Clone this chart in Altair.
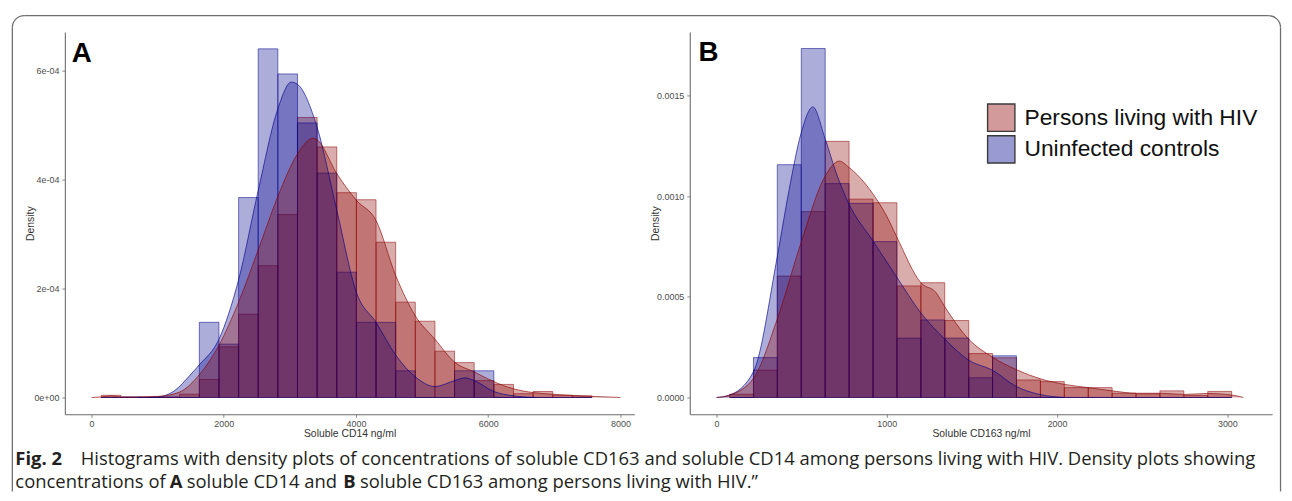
import altair as alt
import pandas as pd

GROUPS = ["Persons living with HIV", "Uninfected controls"]
FILL = ["#8b0000", "#00008b"]
LEGEND_FILL = ["#d29a9a", "#9a9ad3"]

# ---------------- Panel A : soluble CD14 ----------------
a_bin_start = [145, 442, 739, 1036, 1333, 1630, 1927, 2224, 2521, 2818, 3115, 3412, 3709,
               4006, 4303, 4600, 4897, 5194, 5491, 5788, 6085, 6382, 6679, 6976, 7273]
a_bin_width = 297
a_hist_hiv = [0.04e-4, 0, 0.01e-4, 0, 0.06e-4, 0.33e-4, 0.93e-4, 1.53e-4, 2.42e-4, 3.36e-4,
              5.14e-4, 4.60e-4, 3.76e-4, 3.63e-4, 2.85e-4, 1.75e-4, 1.40e-4, 0.85e-4, 0.64e-4,
              0.31e-4, 0.24e-4, 0.07e-4, 0.11e-4, 0.04e-4, 0.03e-4]
a_hist_ctrl = [0, 0.01e-4, 0, 0.01e-4, 0, 1.38e-4, 0.98e-4, 3.67e-4, 6.40e-4, 5.94e-4,
               5.04e-4, 4.12e-4, 2.30e-4, 1.38e-4, 1.38e-4, 0.49e-4, 0, 0, 0.49e-4,
               0.49e-4, 0, 0, 0, 0, 0]
a_dens_hiv_x = [0, 150, 300, 450, 700, 1000, 1333, 1630, 1927, 2224, 2521, 2818, 3115, 3350,
                3412, 3709, 4006, 4303, 4600, 4897, 5194, 5491, 5788, 6085, 6382, 6679, 6976,
                7570, 8000]
a_dens_hiv_y = [0, 0.01e-4, 0.03e-4, 0.01e-4, 0.01e-4, 0.02e-4, 0.10e-4, 0.42e-4, 0.96e-4,
                1.75e-4, 2.71e-4, 3.69e-4, 4.47e-4, 4.76e-4, 4.73e-4, 4.11e-4, 3.62e-4,
                3.25e-4, 2.24e-4, 1.50e-4, 1.07e-4, 0.65e-4, 0.47e-4, 0.29e-4, 0.16e-4,
                0.09e-4, 0.06e-4, 0.02e-4, 0]
a_dens_ctrl_x = [700, 1000, 1250, 1498, 1630, 1927, 2224, 2521, 2818, 3021, 3115, 3412, 3709,
                 4006, 4303, 4600, 4897, 5194, 5491, 5650, 5788, 6085, 6382, 6700]
a_dens_ctrl_y = [0, 0.01e-4, 0.12e-4, 0.42e-4, 0.60e-4, 1.07e-4, 2.16e-4, 3.80e-4, 5.30e-4,
                 5.79e-4, 5.75e-4, 4.96e-4, 3.44e-4, 1.93e-4, 1.38e-4, 0.78e-4, 0.38e-4,
                 0.20e-4, 0.31e-4, 0.36e-4, 0.31e-4, 0.11e-4, 0.03e-4, 0]
a_xticks = [0, 2000, 4000, 6000, 8000]
a_yticks = [0, 2e-4, 4e-4, 6e-4]

# ---------------- Panel B : soluble CD163 ----------------
b_bin_start = [77, 217, 357, 498, 638, 779, 919, 1060, 1200, 1341, 1481, 1621, 1762, 1902,
               2043, 2183, 2323, 2464, 2604, 2745, 2885]
b_bin_width = 140.4
b_hist_hiv = [0.016e-3, 0.136e-3, 0.603e-3, 0.923e-3, 1.272e-3, 0.985e-3, 0.967e-3, 0.554e-3,
              0.570e-3, 0.382e-3, 0.218e-3, 0.197e-3, 0.087e-3, 0.079e-3, 0.049e-3, 0.049e-3,
              0.021e-3, 0.018e-3, 0.033e-3, 0.010e-3, 0.030e-3]
b_hist_ctrl = [0, 0.198e-3, 1.156e-3, 1.733e-3, 1.062e-3, 0.964e-3, 0.774e-3, 0.295e-3,
               0.385e-3, 0.295e-3, 0.098e-3, 0.207e-3, 0, 0, 0, 0, 0, 0, 0, 0, 0]
b_dens_hiv_x = [0, 70, 217, 357, 496, 636, 721, 776, 917, 1000, 1057, 1200, 1290, 1341, 1481,
                1621, 1762, 1902, 2043, 2183, 2323, 2464, 2604, 2745, 2885, 3025, 3095]
b_dens_hiv_y = [0, 0.01e-3, 0.095e-3, 0.39e-3, 0.767e-3, 1.096e-3, 1.174e-3, 1.144e-3,
                1.013e-3, 0.90e-3, 0.80e-3, 0.57e-3, 0.52e-3, 0.45e-3, 0.29e-3, 0.20e-3,
                0.138e-3, 0.093e-3, 0.065e-3, 0.049e-3, 0.033e-3, 0.021e-3, 0.021e-3,
                0.015e-3, 0.020e-3, 0.012e-3, 0]
b_dens_ctrl_x = [0, 70, 217, 357, 426, 496, 566, 636, 705, 776, 917, 1057, 1200, 1341, 1481,
                 1619, 1762, 1898, 2043]
b_dens_ctrl_y = [0, 0.01e-3, 0.128e-3, 0.70e-3, 1.03e-3, 1.31e-3, 1.443e-3, 1.29e-3,
                 1.11e-3, 0.964e-3, 0.78e-3, 0.60e-3, 0.42e-3, 0.29e-3, 0.185e-3, 0.136e-3,
                 0.054e-3, 0.015e-3, 0]
b_xticks = [0, 1000, 2000, 3000]
b_yticks = [0, 0.0005, 0.0010, 0.0015]

CAPTION_1_BOLD = "Fig. 2"
CAPTION_1 = ("Histograms with density plots of concentrations of soluble CD163 and soluble CD14 "
             "among persons living with HIV. Density plots showing")
CAPTION_2 = ["concentrations of", "soluble CD14 and",
             "soluble CD163 among persons living with HIV.\u201d"]
CAPTION_2_BOLD = ["A", "B"]

AXFONT = "Liberation Sans"
CAPFONT = "Open Sans"
CAPSIZE = 18.6
FRAME = "#707070"


def hist_df(starts, width, hiv, ctrl):
    rows = []
    for g, vals in ((GROUPS[0], hiv), (GROUPS[1], ctrl)):
        for s, v in zip(starts, vals):
            rows.append({"start": s, "end": s + width, "density": v, "base": 0, "group": g})
    return pd.DataFrame(rows)


def dens_df(xs, ys, g):
    return pd.DataFrame({"x": xs, "y": ys, "base": [0] * len(xs), "group": [g] * len(xs)})


def text_layer(texts, xs, ys, size, weight="normal", font=CAPFONT, color="#231f20"):
    layers = []
    for t, px, py in zip(texts, xs, ys):
        layers.append(
            alt.Chart(pd.DataFrame({"t": [t]})).mark_text(
                align="left", baseline="alphabetic", font=font, fontSize=size,
                fontWeight=weight, color=color
            ).encode(x=alt.value(px), y=alt.value(py), text="t:N")
        )
    return layers


def panel(hd, dh, dc, xdom, ydom, w, h, xticks, yticks, ylabexpr, xtitle, letter, letter_xy,
          show_legend):
    xs = alt.Scale(domain=xdom, nice=False, zero=False)
    ys = alt.Scale(domain=ydom, nice=False, zero=False)
    xaxis = alt.Axis(values=xticks, title=xtitle, format="d", titleX=w / 2, titleY=19.5,
                     titleBaseline="middle", labelPadding=2)
    yaxis = alt.Axis(values=yticks, title="Density", labelExpr=ylabexpr, titleX=-34.5,
                     titleY=h / 2, titleBaseline="middle", labelPadding=3)
    fill_scale = alt.Scale(domain=GROUPS, range=FILL)

    hist = alt.Chart(hd).mark_rect(fillOpacity=0.32, strokeOpacity=0.75, strokeWidth=0.7).encode(
        x=alt.X("start:Q", scale=xs, axis=xaxis),
        x2="end:Q",
        y=alt.Y("density:Q", scale=ys, axis=yaxis),
        y2="base:Q",
        fill=alt.Fill("group:N", scale=fill_scale, legend=None),
        stroke=alt.Stroke("group:N", scale=fill_scale, legend=None),
    )

    def area(df):
        return alt.Chart(df).mark_area(interpolate="monotone", fillOpacity=0.32).encode(
            x=alt.X("x:Q", scale=xs), y=alt.Y("y:Q", scale=ys), y2="base:Q",
            fill=alt.Fill("group:N", scale=fill_scale, legend=None))

    def line(df):
        return alt.Chart(df).mark_line(interpolate="monotone", strokeWidth=0.8,
                                       strokeOpacity=0.8).encode(
            x=alt.X("x:Q", scale=xs), y=alt.Y("y:Q", scale=ys),
            stroke=alt.Stroke("group:N", scale=fill_scale, legend=None))

    layers = [hist, area(dc), area(dh), line(dc), line(dh)]

    layers += text_layer([letter], [letter_xy[0]], [letter_xy[1]], 28, "bold",
                         font="Liberation Sans", color="#000000")

    if show_legend:
        leg = alt.Chart(hd).mark_rect(strokeWidth=0).encode(
            x=alt.X("start:Q", scale=xs), x2="start:Q",
            y=alt.Y("base:Q", scale=ys), y2="base:Q",
            fill=alt.Fill("group:N", scale=alt.Scale(domain=GROUPS, range=LEGEND_FILL),
                          legend=alt.Legend(
                              title=None, orient="none", legendX=300, legendY=72,
                              symbolType="square", symbolSize=760, symbolStrokeColor="#3a3a3a",
                              symbolStrokeWidth=1.4, symbolOpacity=1, labelFont="Liberation Sans",
                              labelFontSize=23, labelColor="#111111", labelOffset=9,
                              labelLimit=500, rowPadding=-8, padding=0)),
        )
        layers.append(leg)

    return alt.layer(*layers).resolve_scale(fill="independent").properties(width=w, height=h)


ha = hist_df(a_bin_start, a_bin_width, a_hist_hiv, a_hist_ctrl)
hb = hist_df(b_bin_start, b_bin_width, b_hist_hiv, b_hist_ctrl)

W_A, W_B, H = 575, 588, 386

pa = panel(ha, dens_df(a_dens_hiv_x, a_dens_hiv_y, GROUPS[0]),
           dens_df(a_dens_ctrl_x, a_dens_ctrl_y, GROUPS[1]),
           [-404, 8210], [-0.309e-4, 6.709e-4], W_A, H, a_xticks, a_yticks,
           "datum.value < 1e-6 ? '0e+00' : format(datum.value * 1e4, 'd') + 'e-04'",
           "Soluble CD14 ng/ml", "A", (7, 30), False)

# frame (rounded top corners, open bottom) and caption, in panel A's pixel space
one = pd.DataFrame({"a": [0]})
frame = [
    alt.Chart(one).mark_rule(color=FRAME, strokeWidth=1.3).encode(
        x=alt.value(-41), x2=alt.value(1215.5), y=alt.value(-16.5)),
    alt.Chart(one).mark_rule(color=FRAME, strokeWidth=1.3).encode(
        x=alt.value(-53), y=alt.value(-4.5), y2=alt.value(464)),
    alt.Chart(one).mark_rule(color=FRAME, strokeWidth=1.3).encode(
        x=alt.value(1227.5), y=alt.value(-4.5), y2=alt.value(464)),
    alt.Chart(one).mark_arc(stroke=FRAME, strokeWidth=1.3, fillOpacity=0, radius=12,
                            radius2=12, theta=4.712389, theta2=6.283185).encode(
        x=alt.value(-41), y=alt.value(-4.5)),
    alt.Chart(one).mark_arc(stroke=FRAME, strokeWidth=1.3, fillOpacity=0, radius=12,
                            radius2=12, theta=0, theta2=1.570796).encode(
        x=alt.value(1215.5), y=alt.value(-4.5)),
]

cap = []
cap += text_layer([CAPTION_1_BOLD], [-50], [437], CAPSIZE, "bold")
cap += text_layer([CAPTION_1], [16], [437], CAPSIZE)
cap += text_layer(CAPTION_2, [-50, 123, 298], [460] * 3, CAPSIZE)
cap += text_layer(CAPTION_2_BOLD, [106, 281], [460] * 2, CAPSIZE, "bold")

pa = alt.layer(*frame, pa, *cap).resolve_scale(fill="independent")

pb = panel(hb, dens_df(b_dens_hiv_x, b_dens_hiv_y, GROUPS[0]),
           dens_df(b_dens_ctrl_x, b_dens_ctrl_y, GROUPS[1]),
           [-157, 3263], [-0.0000836, 0.0018148], W_B, H, b_xticks, b_yticks,
           "format(datum.value, '.4f')",
           "Soluble CD163 ng/ml", "B", (8.7, 29), True)

chart = alt.hconcat(pa, pb, spacing=56, bounds="flush").resolve_scale(
    fill="independent", stroke="independent"
).properties(
    padding={"left": 1.4, "top": 1.9, "right": 0, "bottom": 0}
).configure_view(stroke=None).configure_axis(
    grid=False, domainColor="#6b6b6b", domainWidth=1.1, tickColor="#6b6b6b", tickSize=3,
    tickWidth=0.8, labelFont=AXFONT, labelFontSize=9, labelColor="#4d4d4d",
    titleFont=AXFONT, titleFontSize=10.5, titleColor="#333333", titleFontWeight="normal"
)

chart.save("out.html", embed_options={"renderer": "svg", "actions": False})
